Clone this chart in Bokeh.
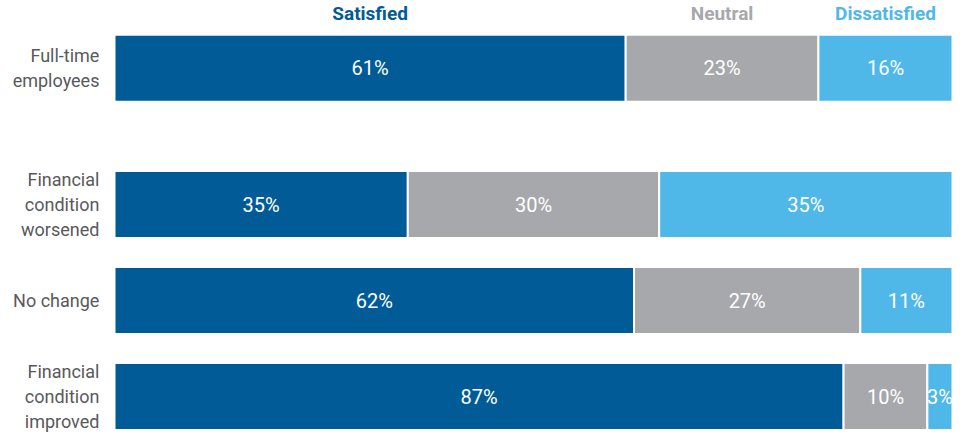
import numpy as np
from bokeh.plotting import figure
from bokeh.models import ColumnDataSource, Range1d
from bokeh.core.properties import value
from bokeh.embed import file_html
from bokeh.resources import INLINE

# ---- data ----
rows = ["Full-time\nemployees", "Financial\ncondition\nworsened", "No change", "Financial\ncondition\nimproved"]
satisfied = [61, 35, 62, 87]
neutral = [23, 30, 27, 10]
dissatisfied = [16, 35, 11, 3]
series = ["Satisfied", "Neutral", "Dissatisfied"]
colors = ["#005b96", "#a7a8ab", "#4fb8e8"]

FONT = "Roboto"

# row positions: bottom-up, extra gap above the first (total) row
n = len(rows)
group_gap = 0.42
ypos = []
for i in range(n):
    k = n - 1 - i
    ypos.append(k + (group_gap if i == 0 else 0.0))
ypos = np.array(ypos, dtype=float)

vals = np.array([satisfied, neutral, dissatisfied], dtype=float)
lefts = np.vstack([np.zeros(n), np.cumsum(vals, axis=0)[:-1]])
rights = lefts + vals

W, H = 955, 432
px_per_pct = 8.38
x0_px = 114
x_start = -x0_px / px_per_pct
x_end = x_start + W / px_per_pct
px_per_row = 96
y_start = -36 / px_per_row
y_end = y_start + H / px_per_row

p = figure(width=W, height=H, output_backend="svg", toolbar_location=None,
           x_range=Range1d(x_start, x_end), y_range=Range1d(y_start, y_end),
           min_border=0, min_border_left=0, min_border_right=0,
           min_border_top=0, min_border_bottom=0)
p.axis.visible = False
p.grid.visible = False
p.outline_line_color = None
p.background_fill_color = "white"
p.border_fill_color = "white"

bar_h = 67 / px_per_row
for s in range(3):
    src = ColumnDataSource(dict(
        y=ypos, left=lefts[s], right=rights[s],
        xm=(lefts[s] + rights[s]) / 2,
        lab=[f"{int(v)}%" for v in vals[s]],
    ))
    p.hbar(y="y", left="left", right="right", height=bar_h, source=src,
           fill_color=colors[s], line_color="white", line_width=2)
    p.text(x="xm", y="y", text="lab", source=src, text_color="white",
           text_font=value(FONT), text_font_size="20px",
           text_align="center", text_baseline="middle")

# header labels above the first row's segments
hsrc = ColumnDataSource(dict(
    x=(lefts[:, 0] + rights[:, 0]) / 2,
    y=[ypos[0] + 0.57] * 3,
    t=series, c=colors,
))
p.text(x="x", y="y", text="t", text_color="c", source=hsrc,
       text_font=value(FONT), text_font_size="19px", text_font_style="bold",
       text_align="center", text_baseline="middle")

# row labels
rsrc = ColumnDataSource(dict(x=[-1.8] * n, y=ypos, t=rows))
p.text(x="x", y="y", text="t", source=rsrc, text_color="#58595b",
       text_font=value(FONT), text_font_size="18px",
       text_align="right", text_baseline="middle", text_line_height=1.2)

open("out.html", "w").write(file_html(p, INLINE))
